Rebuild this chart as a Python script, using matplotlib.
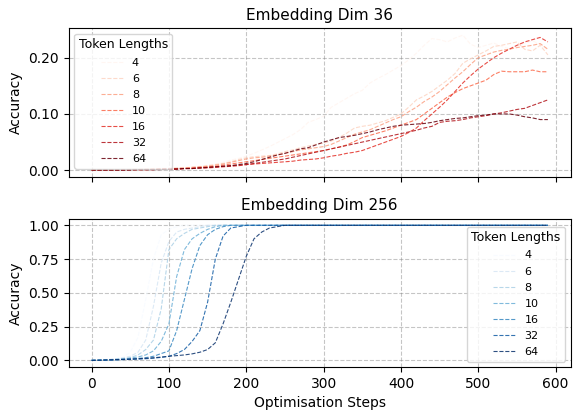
import numpy as np
import matplotlib.pyplot as plt
from matplotlib.ticker import FormatStrFormatter

# optimisation steps (logged every 10 steps)
steps = list(range(0, 600, 10))
token_lengths = [4, 6, 8, 10, 16, 32, 64]

# Embedding Dim 36 accuracy per token length
acc36 = {
    4: [0.000, 0.000, 0.001, 0.001, 0.001, 0.002, 0.002, 0.002, 0.003, 0.003,
        0.004, 0.004, 0.005, 0.006, 0.007, 0.009, 0.011, 0.014, 0.018, 0.021,
        0.025, 0.030, 0.036, 0.042, 0.049, 0.056, 0.063, 0.072, 0.085, 0.090,
        0.096, 0.112, 0.120, 0.128, 0.136, 0.142, 0.155, 0.163, 0.170, 0.178,
        0.186, 0.196, 0.208, 0.222, 0.234, 0.232, 0.228, 0.235, 0.240, 0.224,
        0.218, 0.222, 0.226, 0.220, 0.216, 0.221, 0.226, 0.230, 0.224, 0.214],
    6: [0.000, 0.000, 0.001, 0.001, 0.001, 0.001, 0.002, 0.002, 0.002, 0.003,
        0.003, 0.004, 0.004, 0.005, 0.006, 0.008, 0.010, 0.012, 0.015, 0.019,
        0.022, 0.024, 0.025, 0.026, 0.029, 0.033, 0.036, 0.040, 0.043, 0.046,
        0.048, 0.052, 0.058, 0.066, 0.075, 0.078, 0.080, 0.084, 0.088, 0.094,
        0.100, 0.112, 0.125, 0.132, 0.140, 0.150, 0.160, 0.172, 0.190, 0.198,
        0.205, 0.212, 0.220, 0.222, 0.225, 0.228, 0.215, 0.212, 0.222, 0.205],
    8: [0.000, 0.000, 0.000, 0.001, 0.001, 0.001, 0.001, 0.002, 0.002, 0.002,
        0.003, 0.003, 0.004, 0.005, 0.006, 0.007, 0.009, 0.011, 0.014, 0.017,
        0.020, 0.022, 0.023, 0.025, 0.027, 0.030, 0.033, 0.036, 0.038, 0.040,
        0.042, 0.046, 0.052, 0.058, 0.064, 0.068, 0.072, 0.078, 0.084, 0.090,
        0.095, 0.104, 0.112, 0.122, 0.130, 0.140, 0.152, 0.164, 0.175, 0.188,
        0.200, 0.205, 0.210, 0.213, 0.215, 0.218, 0.220, 0.222, 0.225, 0.215],
    10: [0.000, 0.000, 0.000, 0.000, 0.001, 0.001, 0.001, 0.001, 0.002, 0.002,
         0.002, 0.003, 0.003, 0.004, 0.005, 0.006, 0.007, 0.009, 0.011, 0.013,
         0.015, 0.017, 0.019, 0.021, 0.023, 0.025, 0.027, 0.029, 0.031, 0.033,
         0.035, 0.038, 0.041, 0.045, 0.051, 0.058, 0.062, 0.066, 0.070, 0.075,
         0.080, 0.085, 0.090, 0.100, 0.110, 0.120, 0.130, 0.138, 0.145, 0.150,
         0.155, 0.160, 0.170, 0.176, 0.175, 0.175, 0.175, 0.178, 0.175, 0.175],
    16: [0.000, 0.000, 0.000, 0.000, 0.000, 0.001, 0.001, 0.001, 0.001, 0.002,
         0.002, 0.002, 0.003, 0.003, 0.004, 0.004, 0.005, 0.006, 0.007, 0.008,
         0.010, 0.011, 0.012, 0.013, 0.014, 0.015, 0.016, 0.018, 0.019, 0.020,
         0.022, 0.025, 0.027, 0.030, 0.032, 0.035, 0.040, 0.045, 0.050, 0.055,
         0.060, 0.067, 0.075, 0.088, 0.100, 0.112, 0.125, 0.140, 0.155, 0.168,
         0.180, 0.190, 0.200, 0.208, 0.215, 0.222, 0.228, 0.232, 0.236, 0.228],
    32: [0.000, 0.000, 0.000, 0.000, 0.000, 0.001, 0.001, 0.001, 0.001, 0.002,
         0.002, 0.002, 0.003, 0.003, 0.004, 0.005, 0.006, 0.007, 0.008, 0.009,
         0.010, 0.012, 0.014, 0.016, 0.018, 0.020, 0.023, 0.026, 0.029, 0.032,
         0.035, 0.038, 0.041, 0.044, 0.047, 0.050, 0.053, 0.056, 0.059, 0.062,
         0.065, 0.068, 0.071, 0.075, 0.078, 0.085, 0.087, 0.088, 0.090, 0.093,
         0.095, 0.097, 0.100, 0.102, 0.105, 0.108, 0.110, 0.115, 0.120, 0.125],
    64: [0.000, 0.000, 0.000, 0.000, 0.000, 0.000, 0.001, 0.001, 0.001, 0.001,
         0.002, 0.002, 0.003, 0.003, 0.004, 0.005, 0.006, 0.007, 0.008, 0.010,
         0.012, 0.015, 0.019, 0.023, 0.027, 0.030, 0.034, 0.038, 0.040, 0.045,
         0.050, 0.054, 0.058, 0.060, 0.062, 0.065, 0.068, 0.072, 0.075, 0.078,
         0.080, 0.081, 0.082, 0.083, 0.085, 0.088, 0.090, 0.092, 0.093, 0.095,
         0.097, 0.098, 0.100, 0.100, 0.100, 0.098, 0.095, 0.093, 0.090, 0.090],
}

# Embedding Dim 256: values until each curve saturates, then 1.0
acc256_rise = {
    4: [0.000, 0.003, 0.006, 0.010, 0.020, 0.060, 0.170, 0.450, 0.750, 0.930,
        0.970, 0.990],
    6: [0.000, 0.002, 0.005, 0.010, 0.018, 0.030, 0.060, 0.150, 0.400, 0.720,
        0.880, 0.950, 0.970, 0.980, 0.990],
    8: [0.000, 0.002, 0.004, 0.008, 0.012, 0.020, 0.040, 0.080, 0.150, 0.380,
        0.820, 0.900, 0.940, 0.970, 0.980, 0.990],
    10: [0.000, 0.001, 0.003, 0.006, 0.010, 0.016, 0.025, 0.040, 0.070, 0.140,
         0.270, 0.620, 0.820, 0.900, 0.940, 0.970, 0.990],
    16: [0.000, 0.001, 0.002, 0.004, 0.007, 0.010, 0.014, 0.020, 0.030, 0.050,
         0.070, 0.220, 0.450, 0.680, 0.850, 0.930, 0.970, 0.990],
    32: [0.000, 0.001, 0.002, 0.003, 0.005, 0.007, 0.009, 0.012, 0.016, 0.022,
         0.030, 0.050, 0.080, 0.140, 0.220, 0.430, 0.750, 0.920, 0.980, 0.990],
    64: [0.000, 0.001, 0.003, 0.005, 0.007, 0.009, 0.012, 0.015, 0.019, 0.024,
         0.030, 0.035, 0.040, 0.048, 0.060, 0.080, 0.130, 0.270, 0.430, 0.600,
         0.770, 0.900, 0.950, 0.980, 0.990],
}
acc256 = {t: v + [1.0] * (len(steps) - len(v)) for t, v in acc256_rise.items()}

fig, (ax1, ax2) = plt.subplots(2, 1, figsize=(5.73, 4.12), dpi=100, sharex=True)
fig.subplots_adjust(left=0.12, right=0.996, top=0.931, bottom=0.109, hspace=0.28)

reds = plt.cm.Reds(np.linspace(0, 1, len(token_lengths)))
blues = plt.cm.Blues(np.linspace(0, 1, len(token_lengths)))

for i, t in enumerate(token_lengths):
    ax1.plot(steps, acc36[t], '--', color=reds[i], lw=0.8, alpha=0.85, label=str(t))
    ax2.plot(steps, acc256[t], '--', color=blues[i], lw=0.8, alpha=0.85, label=str(t))

ax1.set_title('Embedding Dim 36', fontsize=11)
ax2.set_title('Embedding Dim 256', fontsize=11)
ax1.set_ylabel('Accuracy', fontsize=10)
ax2.set_ylabel('Accuracy', fontsize=10)
ax2.set_xlabel('Optimisation Steps', fontsize=10)

ax1.yaxis.set_major_formatter(FormatStrFormatter('%.2f'))
ax2.set_yticks([0, 0.25, 0.5, 0.75, 1.0])
ax2.yaxis.set_major_formatter(FormatStrFormatter('%.2f'))

for ax in (ax1, ax2):
    ax.grid(True, linestyle='--', color='gray', alpha=0.45)
    ax.tick_params(labelsize=10)

ax1.legend(title='Token Lengths', loc='upper left', fontsize=8,
           title_fontsize=9, labelspacing=0.55)
ax2.legend(title='Token Lengths', loc='lower right', fontsize=8,
           title_fontsize=9, labelspacing=0.55)

fig.savefig('out.png')
